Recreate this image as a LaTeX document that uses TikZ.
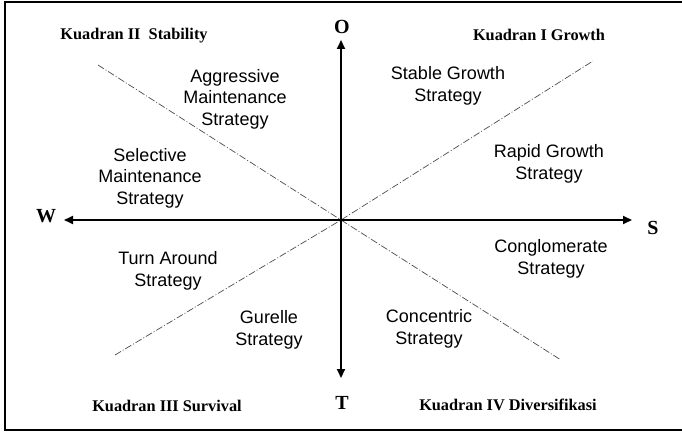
\documentclass[tikz,border=0pt]{standalone}
\usepackage{fontspec}
\setmainfont{Liberation Serif}
\newfontfamily\arialfont{Liberation Sans}
\usetikzlibrary{arrows.meta}

\begin{document}
\begin{tikzpicture}[x=1pt, y=-1pt,
		sumbu/.style={line width=2pt, -{Triangle[length=9pt, width=8pt]}},
		diagonal/.style={line width=0.7pt, black!70, dash pattern=on 7pt off 2pt on 1pt off 2pt},
		strategi/.style={align=center, font=\arialfont\fontsize{18}{21.5}\selectfont, inner sep=0pt},
		kuadran/.style={font=\bfseries\fontsize{16.3}{18}\selectfont, inner sep=0pt},
		huruf/.style={font=\bfseries\fontsize{20}{22}\selectfont, inner sep=0pt}]
				\useasboundingbox (0,0) rectangle (682,433);
				
				\draw[line width=1.4pt] (690,2) -- (5,2) -- (5,430) -- (690,430);
				
				\coordinate (pusat) at (341,220);
				\coordinate (ujungO) at (341,40);
				\coordinate (ujungT) at (341,378);
				\coordinate (ujungW) at (64,220);
				\coordinate (ujungS) at (632,220);
				
				\coordinate (kiriatas) at (98,65);
				\coordinate (kananbawah) at (561,360);
				\coordinate (kananatas) at (593,61);
				\coordinate (kiribawah) at (115,355);
				
				\draw[diagonal] (kiriatas) -- (pusat) -- (kananbawah);
				
				\draw[diagonal] (kiribawah) -- (pusat) -- (kananatas);
				
				\draw[sumbu] (pusat) -- (ujungO);
				\draw[sumbu] (pusat) -- (ujungT);
				\draw[sumbu] (pusat) -- (ujungW);
				\draw[sumbu] (pusat) -- (ujungS);
				
				\node[huruf] (O) at (342,27) {O};
				\node[huruf] (T) at (342,403) {T};
				\node[huruf] (W) at (46,216) {W};
				\node[huruf] (S) at (653,228) {S};
				
				\node[kuadran] (k2) at (134,36) {Kuadran II\ \ Stability};
				\node[kuadran] (k1) at (539,35) {Kuadran I Growth};
				\node[kuadran] (k3) at (167,406) {Kuadran III Survival};
				\node[kuadran] (k4) at (508,405) {Kuadran IV Diversifikasi};
				
				\node[strategi] (aggressive) at (235,99) {Aggressive\\Maintenance\\Strategy};
				\node[strategi] (selective) at (150,178) {Selective\\Maintenance\\Strategy};
				\node[strategi] (stable) at (448,86) {Stable Growth\\Strategy};
				\node[strategi] (rapid) at (549,164) {Rapid Growth\\Strategy};
				\node[strategi] (turn) at (168,271) {Turn Around\\Strategy};
				\node[strategi] (gurelle) at (269,330) {Gurelle\\Strategy};
				\node[strategi] (conglomerate) at (551,259) {Conglomerate\\Strategy};
				\node[strategi] (concentric) at (429,329) {Concentric\\Strategy};
\end{tikzpicture}
\end{document}
